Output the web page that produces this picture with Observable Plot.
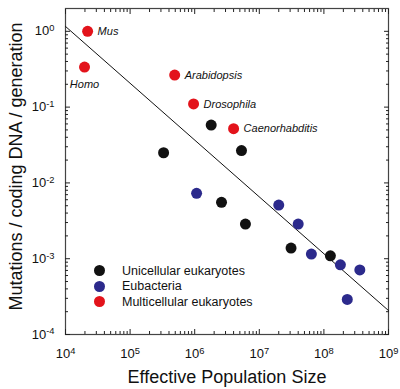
<!DOCTYPE html>
<html><head><meta charset="utf-8">
<script src="https://cdn.jsdelivr.net/npm/d3@7"></script>
<script src="https://cdn.jsdelivr.net/npm/@observablehq/plot@0.6"></script>
<style>
body{margin:0;background:#fff;font-family:"Liberation Sans",Arial,sans-serif}
#wrap{position:relative;width:400px;height:389px}
#legend{position:absolute;left:94px;top:263px;font-size:12.5px;color:#111}
#legend div{display:flex;align-items:center;height:15.5px;white-space:nowrap}
#legend span.sw{display:inline-block;width:11px;height:11px;border-radius:50%;margin-right:17px;flex:none}
</style></head><body><div id="wrap"></div>
<script>
// ---- data ----
const groups = ["Unicellular eukaryotes", "Eubacteria", "Multicellular eukaryotes"];
const groupColors = ["#111111", "#2c2a8c", "#e3131b"];

const unicellularNe = [3.3e5, 1.8e6, 5.3e6, 2.6e6, 6.1e6, 3.1e7, 1.26e8];
const unicellularU  = [0.025, 0.058, 0.0267, 0.00555, 0.00286, 0.00138, 0.00109];

const eubacteriaNe = [1.07e6, 2.0e7, 4.0e7, 6.4e7, 1.8e8, 3.6e8, 2.3e8];
const eubacteriaU  = [0.0073, 0.0051, 0.00286, 0.00115, 0.00083, 0.00071, 0.00029];

const multiNames = ["Mus", "Homo", "Arabidopsis", "Drosophila", "Caenorhabditis"];
const multiNe = [2.2e4, 1.97e4, 4.9e5, 9.6e5, 4.0e6];
const multiU  = [1.0, 0.337, 0.265, 0.11, 0.052];
const labelBelow = [false, true, false, false, false];

const fitNe = [1e4, 1e9];
const fitU  = [1.16, 2.07e-4];

const xTicks = [1e4, 1e5, 1e6, 1e7, 1e8, 1e9];
const yTicks = [1e-4, 1e-3, 1e-2, 1e-1, 1e0];
const xTitle = "Effective Population Size";
const yTitle = "Mutations / coding DNA / generation";

// ---- build tables ----
const points = [
  ...unicellularNe.map((ne, i) => ({ne, u: unicellularU[i], g: groups[0]})),
  ...eubacteriaNe.map((ne, i) => ({ne, u: eubacteriaU[i], g: groups[1]})),
  ...multiNe.map((ne, i) => ({ne, u: multiU[i], g: groups[2]}))
];
const labels = multiNames.map((name, i) => ({name, ne: multiNe[i], u: multiU[i], below: labelBelow[i]}));
const fit = fitNe.map((ne, i) => ({ne, u: fitU[i]}));

const minor = (majors) => majors.slice(0, -1).flatMap(m => d3.range(2, 10).map(k => m * k));
const xMinor = minor(xTicks), yMinor = minor(yTicks);
const fmt = d => "10^" + Math.round(Math.log10(d));
const blank = () => "";

const tickColor = "#222";
const svg = Plot.plot({
  width: 400, height: 389,
  marginLeft: 65, marginRight: 12, marginTop: 8, marginBottom: 55,
  style: {fontFamily: "'Liberation Sans', Arial, sans-serif", color: "#111", background: "#fff"},
  x: {type: "log", domain: [1e4, 1e9], axis: null},
  y: {type: "log", domain: [1e-4, 2], axis: null},
  color: {domain: groups, range: groupColors},
  marks: [
    Plot.frame({stroke: "#444", strokeWidth: 1.2}),
    // inward ticks, all four sides
    Plot.axisX(xTicks, {anchor: "bottom", tickSize: -5, tickFormat: blank, label: null, stroke: tickColor}),
    Plot.axisX(xMinor, {anchor: "bottom", tickSize: -3, tickFormat: blank, label: null, stroke: tickColor}),
    Plot.axisX(xTicks, {anchor: "top", tickSize: -5, tickFormat: blank, label: null, stroke: tickColor}),
    Plot.axisX(xMinor, {anchor: "top", tickSize: -3, tickFormat: blank, label: null, stroke: tickColor}),
    Plot.axisY(yTicks, {anchor: "left", tickSize: -5, tickFormat: blank, label: null, stroke: tickColor}),
    Plot.axisY(yMinor, {anchor: "left", tickSize: -3, tickFormat: blank, label: null, stroke: tickColor}),
    Plot.axisY(yTicks, {anchor: "right", tickSize: -5, tickFormat: blank, label: null, stroke: tickColor}),
    Plot.axisY(yMinor, {anchor: "right", tickSize: -3, tickFormat: blank, label: null, stroke: tickColor}),
    // tick labels
    Plot.axisX(xTicks, {anchor: "bottom", tickSize: 0, tickPadding: 14, tickFormat: fmt, label: null, fontSize: 13}),
    Plot.axisY(yTicks, {anchor: "left", tickSize: 0, tickPadding: 11, tickFormat: fmt, label: null, fontSize: 13}),
    // titles
    Plot.text([xTitle], {frameAnchor: "bottom", dy: 43, fontSize: 18, lineAnchor: "middle", textAnchor: "middle", fill: "#111"}),
    Plot.text([yTitle], {frameAnchor: "left", rotate: -90, dx: -49, dy: -5, fontSize: 18, lineAnchor: "middle", textAnchor: "middle", fill: "#111"}),
    // fit line
    Plot.line(fit, {x: "ne", y: "u", stroke: "#111", strokeWidth: 1}),
    // points
    Plot.dot(points, {x: "ne", y: "u", fill: "g", r: 5.5}),
    // species labels
    Plot.text(labels.filter(d => !d.below), {x: "ne", y: "u", text: "name", dx: 10, textAnchor: "start", fontStyle: "italic", fontSize: 11, fill: "#111"}),
    Plot.text(labels.filter(d => d.below), {x: "ne", y: "u", text: "name", dy: 17, textAnchor: "middle", fontStyle: "italic", fontSize: 11, fill: "#111"})
  ]
});

// superscript exponents in tick labels
d3.select(svg).selectAll('g[aria-label$="tick label"] text').each(function() {
  const t = d3.select(this);
  const s = t.text();
  if (!s.includes("^")) return;
  const [base, exp] = s.split("^");
  t.text("");
  t.append("tspan").text(base);
  t.append("tspan").attr("dy", "-0.45em").attr("font-size", "0.72em").text(exp);
});

const wrap = document.getElementById("wrap");
wrap.appendChild(svg);

// legend
const legend = document.createElement("div");
legend.id = "legend";
groups.forEach((g, i) => {
  const row = document.createElement("div");
  const sw = document.createElement("span");
  sw.className = "sw";
  sw.style.background = groupColors[i];
  row.appendChild(sw);
  row.appendChild(document.createTextNode(g));
  legend.appendChild(row);
});
wrap.appendChild(legend);
</script>
</body></html>
